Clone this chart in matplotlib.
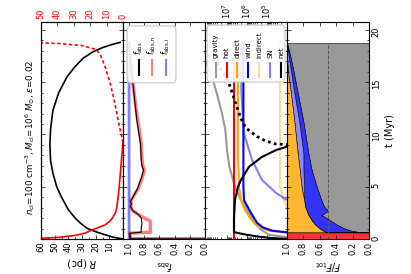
import numpy as np
import matplotlib
matplotlib.use("Agg")
import matplotlib.pyplot as plt
from matplotlib.patches import FancyBboxPatch
from matplotlib.lines import Line2D
from matplotlib.ticker import FixedLocator, MultipleLocator, NullFormatter

# ---------------- data (time in Myr) ----------------
# Panel 1: shell radius (pc) and velocity (red axis)
t_R = [0.0, 0.2, 0.4, 0.7, 1.0, 1.5, 2.0, 2.8, 4.0, 5.0, 6.3, 7.5, 9.0, 10.5,
       12.3, 14.0, 15.5, 16.5, 17.3, 17.9, 18.3, 18.6, 18.8]
R_pc = [0.0, 8.0, 13.0, 20.0, 26.0, 31.0, 35.0, 40.0, 45.0, 48.5, 51.3, 53.0,
        53.5, 53.0, 51.3, 47.0, 41.0, 35.0, 29.0, 22.0, 15.0, 8.0, 2.0]
t_v = [0.0, 0.05, 0.1, 0.19, 0.35, 0.57, 0.86, 1.34, 1.7, 2.0, 2.5, 3.0, 3.7,
       5.0, 6.5, 8.0, 9.2]
v_pos = [80.0, 55.0, 45.0, 37.0, 29.0, 23.0, 19.0, 11.0, 8.0, 6.5, 4.6, 3.8,
         3.2, 2.3, 1.5, 0.7, 0.0]
t_vneg = [9.2, 11.0, 13.3, 15.0, 16.5, 17.5, 18.1, 18.5, 18.7, 18.78]
v_neg = [0.0, 2.5, 5.4, 8.0, 11.0, 13.5, 16.0, 25.0, 40.0, 55.0]

# Panel 2: absorbed fractions
t_fabs = [0.0, 0.01, 0.55, 0.65, 1.0, 1.5, 2.0, 2.3, 2.7, 3.1, 3.4, 3.6, 4.0,
          4.8, 5.8, 6.3, 6.6, 7.0, 7.6, 9.1, 11.5, 14.9, 17.8, 18.75]
fabs = [0.0, 0.98, 0.99, 0.84, 0.84, 0.83, 0.84, 0.87, 0.95, 0.98, 0.97, 0.98,
        0.95, 0.89, 0.84, 0.82, 0.81, 0.83, 0.84, 0.85, 0.90, 0.95, 0.99, 1.0]
t_fabsn = [0.0, 0.01, 0.55, 0.65, 1.0, 1.7, 2.2, 2.7, 3.1, 3.4, 3.6, 4.0,
           4.8, 5.8, 6.3, 6.6, 7.0, 7.6, 9.1, 11.5, 14.9, 17.8, 18.75]
fabsn = [0.0, 0.98, 0.99, 0.72, 0.72, 0.72, 0.85, 0.95, 0.98, 0.97, 0.98,
         0.95, 0.88, 0.83, 0.81, 0.80, 0.82, 0.83, 0.84, 0.89, 0.95, 0.99, 1.0]
t_fabsi = [0.0, 0.005, 18.75]
fabsi = [0.0, 1.0, 1.0]

# Panel 3: forces, log10 values
t_grav = [0.05, 0.4, 0.9, 1.5, 2.8, 3.7, 5.0, 6.9, 8.5, 10.4, 12.0, 13.5,
          15.2, 16.5, 17.3, 18.0]
lg_grav = [3.5, 4.9, 5.3, 5.6, 6.0, 6.3, 6.6, 6.88, 7.0, 7.08, 7.25, 7.45,
           7.7, 7.95, 8.2, 8.6]
t_hot = [0.0, 18.75]
lg_hot = [6.65, 6.65]
t_direct = [0.6, 0.65, 0.8, 1.0, 1.34, 2.0, 2.8, 3.7, 5.0, 8.0, 18.75]
lg_direct = [3.5, 4.3, 4.9, 5.2, 5.55, 5.85, 6.1, 6.3, 6.4, 6.45, 6.45]
t_wind = [0.6, 0.65, 0.8, 1.1, 1.55, 2.5, 3.7, 5.0, 18.75]
lg_wind = [3.5, 4.05, 4.75, 5.2, 5.5, 5.8, 6.15, 6.18, 6.18]
t_indirect = [0.6, 2.0, 3.0, 3.7, 5.0, 18.75]
lg_indirect = [3.5, 3.8, 4.0, 4.15, 4.35, 4.35]
t_sn = [3.65, 3.73, 4.4, 5.65, 7.56, 10.1, 12.0, 14.0, 18.75]
lg_sn = [3.0, 4.0, 4.55, 5.25, 5.75, 6.15, 6.22, 6.28, 6.3]
t_net = [0.0, 0.1, 0.22, 0.4, 0.55, 0.67, 2.0, 3.73, 5.0, 5.65, 6.9, 7.85,
         8.5, 8.8, 8.9]
lg_net = [4.0, 4.8, 5.4, 6.0, 6.4, 6.65, 6.65, 6.6, 6.45, 6.3, 5.9, 5.25,
          4.55, 4.05, 3.0]
t_netneg = [8.9, 9.1, 9.4, 9.8, 10.6, 11.5, 12.6, 14.9, 16.0, 17.0, 17.8]
lg_netneg = [3.0, 4.6, 5.1, 5.5, 6.05, 6.3, 6.5, 6.9, 7.2, 7.6, 8.1]

# Panel 4: force fractions
t_frac = [0.0, 0.62, 0.63, 0.8, 1.0, 1.4, 1.8, 2.3, 2.7, 3.1, 3.7, 4.8, 6.6,
          8.2, 11.2, 14.4, 16.0, 17.5, 18.75]
fr_hot = [1, 1, 0, 0, 0, 0, 0, 0, 0, 0, 0, 0, 0, 0, 0, 0, 0, 0, 0]
fr_grav = [0, 0, .10, .22, .30, .40, .48, .58, .50, .55, .58, .63, .70, .74,
           .80, .88, .92, .96, 1.0]
fr_wind = [0, 0, .42, .34, .30, .26, .22, .16, .26, .23, .21, .16, .10, .06,
           .05, .04, .03, .02, 0]
fr_sn = [0, 0, 0, 0, 0, 0, 0, 0, 0, 0, 0, .03, .045, .07, .06, .04, .04, .02, 0]
fr_direct = [0, 0, .48, .44, .40, .34, .30, .26, .24, .22, .21, .18, .155,
             .13, .09, .04, .01, 0, 0]
half_line = 0.5

title = (r"$n_{\rm cl}$=100 cm$^{-3}$, $M_{\rm cl}$=10$^{6}$ $M_{\odot}$, "
         r"$\epsilon$=0.02")

# ---------------- figure ----------------
W_PX, H_PX = 411, 274
fig = plt.figure(figsize=(W_PX / 100, H_PX / 100), dpi=100)

L = 41 / W_PX
PW = 82 / W_PX
B = 35 / H_PX
PH = 217 / H_PX
TMAX = 20.75
FS = 6

axes = [fig.add_axes([L + i * PW, B, PW, PH]) for i in range(4)]
ax1, ax2, ax3, ax4 = axes

for ax in axes:
    ax.set_ylim(0, TMAX)
    ax.yaxis.set_major_locator(FixedLocator([0, 5, 10, 15, 20]))
    ax.yaxis.set_minor_locator(MultipleLocator(1))
    ax.tick_params(axis='both', which='both', direction='in', top=True,
                   bottom=True, left=True, right=True, labelleft=False,
                   labelsize=FS, width=0.5, pad=2)
    ax.tick_params(which='major', length=3)
    ax.tick_params(which='minor', length=1.5)
    for s in ax.spines.values():
        s.set_linewidth(0.8)

# ----- panel 1 -----
ax1.plot(R_pc, t_R, color='black', lw=1.2)
ax1.set_xlim(60, 0)
ax1.xaxis.set_major_locator(FixedLocator([10, 20, 30, 40, 50, 60]))
ax1.xaxis.set_minor_locator(MultipleLocator(5))
ax1.tick_params(axis='x', labelrotation=90, top=False)
ax1.set_xlabel(r"$R$ (pc)", rotation=180, fontsize=7, labelpad=2)
ax1r = ax1.twiny()
ax1r.plot(v_pos, t_v, color='red', lw=1.2)
ax1r.plot(v_neg, t_vneg, color='red', lw=1.2, ls=(0, (2, 1.5)))
ax1r.set_xlim(50, 0)
ax1r.set_ylim(0, TMAX)
ax1r.xaxis.set_major_locator(FixedLocator([0, 10, 20, 30, 40, 50]))
ax1r.tick_params(axis='x', direction='in', labelrotation=90, labelcolor='red',
                 labelsize=FS, length=3, width=0.5, pad=2)
ax1r.tick_params(axis='y', which='both', left=False, right=False,
                 labelleft=False, labelright=False)
fig.text(30 / W_PX, 0.5, title, rotation=90, ha='center', va='center',
         fontsize=6.3)

# ----- panel 2 -----
ax2.plot(fabsi, t_fabsi, color='blue', alpha=0.5, lw=2)
ax2.plot(fabsn, t_fabsn, color='red', alpha=0.5, lw=2.5)
ax2.plot(fabs, t_fabs, color='black', lw=0.8)
ax2.set_xlim(1.08, 0)
ax2.xaxis.set_major_locator(FixedLocator([0, 0.2, 0.4, 0.6, 0.8, 1.0]))
ax2.xaxis.set_major_formatter(matplotlib.ticker.FormatStrFormatter('%.1f'))
ax2.tick_params(axis='x', labelrotation=90)
ax2.set_xlabel(r"$f_{\rm abs}$", rotation=180, fontsize=7, labelpad=2)

# ----- panel 3 -----
p3 = [
    (t_grav, lg_grav, dict(color='0.6', lw=1.5), 'gravity'),
    (t_hot, lg_hot, dict(color='red', lw=1.5), 'hot'),
    (t_direct, lg_direct, dict(color='orange', lw=1.5), 'direct'),
    (t_wind, lg_wind, dict(color='blue', lw=1.5), 'wind'),
    (t_indirect, lg_indirect, dict(color='orange', alpha=0.4, lw=1.5), 'indirect'),
    (t_sn, lg_sn, dict(color='blue', alpha=0.5, lw=1.5), 'SN'),
    (t_net, lg_net, dict(color='black', lw=1.5), 'net'),
]
for tt, lg, kw, lab in p3:
    ax3.plot(10 ** np.asarray(lg), tt, **kw)
ax3.plot(10 ** np.asarray(lg_netneg), t_netneg, color='black', lw=2,
         ls=(0, (1, 1.2)))
ax3.set_xscale('log')
ax3.set_xlim(10 ** 8.1, 1e4)
ax3.xaxis.set_major_locator(FixedLocator([1e5, 1e6, 1e7]))
ax3.xaxis.set_minor_locator(matplotlib.ticker.LogLocator(base=10, subs=np.arange(1, 10) * 1.0, numticks=20))
ax3.xaxis.set_minor_formatter(NullFormatter())
ax3.tick_params(axis='x', labelbottom=False, labeltop=True, labelrotation=90)


def rot_legend(ax, items, box, hy, ty, xs, fs):
    x0, y0, x1, y1 = box
    ax.add_patch(FancyBboxPatch((x0, y0), x1 - x0, y1 - y0,
                                boxstyle='round,pad=0,rounding_size=0.03',
                                transform=ax.transAxes, fc='white', ec='0.75',
                                lw=0.8, alpha=0.9, zorder=10, clip_on=False))
    for (lab, kw), x in zip(items, xs):
        kw = dict(kw)
        kw['lw'] = 1.5
        ax.add_line(Line2D([x, x], [hy[0], hy[1]], transform=ax.transAxes,
                           zorder=11, clip_on=False, **kw))
        ax.text(x, ty, lab, rotation=90, ha='center', va='bottom',
                transform=ax.transAxes, fontsize=fs, zorder=12)


rot_legend(ax2,
           [(r"$f_{\rm abs}$", dict(color='black')),
            (r"$f_{\rm abs,n}$", dict(color='red', alpha=0.5)),
            (r"$f_{\rm abs,i}$", dict(color='blue', alpha=0.5))],
           (0.05, 0.72, 0.646, 0.982), (0.756, 0.825), 0.85,
           [0.195, 0.354, 0.524], 5.5)
rot_legend(ax3, [(lab, kw) for _, _, kw, lab in p3],
           (0.025, 0.7235, 0.975, 0.986), (0.746, 0.811), 0.835,
           [0.13 + 0.133 * i for i in range(7)], 5)
ax3.set_xlim(10 ** 8.1, 1e4)
ax3.set_ylim(0, TMAX)

# ----- panel 4 -----
stack = [fr_grav, fr_wind, fr_sn, fr_direct, fr_hot]
colors = ['#999999', '#3333ff', '#8c8cff', '#ffb732', '#ff3333']
lower = np.zeros(len(t_frac))
for frac, c in zip(stack, colors):
    upper = lower + np.asarray(frac, dtype=float)
    ax4.fill_betweenx(t_frac, lower, upper, facecolor=c, edgecolor='black',
                      lw=0.4)
    lower = upper
ax4.vlines(half_line, t_frac[0], t_frac[-1], colors='0.35', linestyles='--',
           lw=0.7)
ax4.set_xlim(1, 0)
ax4.xaxis.set_major_locator(FixedLocator([0, 0.2, 0.4, 0.6, 0.8, 1.0]))
ax4.xaxis.set_major_formatter(matplotlib.ticker.FormatStrFormatter('%.1f'))
ax4.tick_params(axis='x', labelrotation=90)
ax4.tick_params(axis='y', labelright=True, labelrotation=90)
ax4.set_xlabel(r"$F/F_{\rm tot}$", rotation=180, fontsize=7, labelpad=2)
ax4.yaxis.set_label_position('right')
ax4.set_ylabel('t (Myr)', rotation=90, fontsize=7, labelpad=3)
ax4.set_ylim(0, TMAX)

fig.savefig('out.png', dpi=100)
